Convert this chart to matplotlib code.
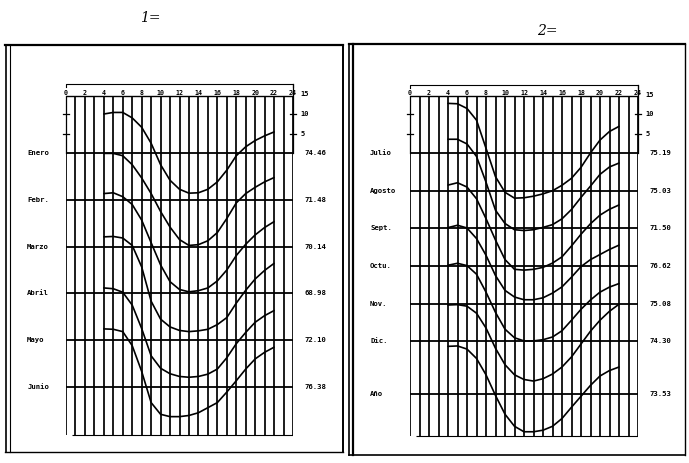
import matplotlib
matplotlib.use('Agg')
import matplotlib.pyplot as plt
from matplotlib.lines import Line2D

# ---------------- data (deviation from daily mean, hours 4..22) ----------------
hours = list(range(4, 23))

enero = [10.0, 10.4, 10.4, 9.0, 6.6, 2.5, -3.0, -7.0, -9.3, -10.3, -10.2, -9.3, -7.4, -4.4, -0.7, 1.6, 3.2, 4.4, 5.4]
febr = [11.9, 11.9, 11.3, 9.0, 5.6, 1.6, -3.0, -7.0, -10.2, -11.7, -11.5, -10.5, -8.4, -4.8, -0.8, 1.6, 3.2, 4.6, 5.7]
marzo = [13.6, 13.8, 12.8, 10.8, 6.8, 1.0, -4.7, -9.0, -11.0, -11.6, -11.3, -10.6, -8.8, -6.0, -2.3, 0.6, 3.0, 4.9, 6.4]
abril = [14.5, 14.6, 14.2, 12.3, 6.8, -2.0, -6.6, -8.6, -9.5, -9.8, -9.6, -9.2, -8.0, -6.2, -2.5, 0.8, 3.7, 5.9, 7.7]
mayo = [13.4, 13.2, 12.3, 9.0, 3.0, -4.0, -7.2, -8.6, -9.3, -9.5, -9.3, -8.7, -7.4, -4.5, -0.9, 2.0, 4.6, 6.3, 7.6]
junio = [14.9, 14.8, 14.2, 10.6, 4.0, -4.0, -7.0, -7.6, -7.6, -7.3, -6.6, -5.3, -4.0, -1.3, 1.6, 4.6, 7.2, 8.9, 10.2]

julio = [12.8, 12.7, 11.5, 8.5, 1.3, -6.0, -10.0, -11.5, -11.4, -11.0, -10.4, -9.6, -8.2, -6.4, -3.6, 0.1, 3.4, 5.6, 6.9]
agosto = [13.2, 13.2, 12.0, 8.8, 2.2, -5.0, -8.4, -10.0, -10.2, -10.0, -9.4, -8.7, -7.2, -4.8, -1.7, 1.2, 4.2, 6.1, 7.1]
sept = [11.1, 11.7, 10.6, 7.6, 2.5, -3.0, -8.0, -10.5, -10.7, -10.5, -10.0, -8.9, -7.3, -4.5, -1.5, 1.2, 3.4, 4.9, 6.0]
octu = [9.8, 10.4, 9.7, 7.0, 2.7, -2.5, -6.3, -8.0, -8.7, -8.7, -8.2, -7.0, -5.4, -2.9, -0.2, 1.6, 2.9, 4.2, 5.3]
nov = [9.9, 10.4, 9.8, 7.6, 3.0, -2.2, -6.5, -8.7, -9.5, -9.5, -9.2, -8.5, -6.9, -4.2, -1.4, 1.0, 3.0, 4.3, 5.2]
dic = [9.3, 9.4, 9.0, 7.2, 3.4, -1.8, -6.0, -8.6, -9.8, -10.2, -9.6, -8.4, -6.6, -4.0, -0.7, 2.6, 5.4, 7.7, 9.5]
anio = [12.1, 12.2, 11.4, 9.0, 4.8, -0.5, -5.3, -8.4, -9.8, -9.8, -9.4, -8.4, -6.4, -3.5, -0.7, 2.1, 4.5, 5.9, 6.8]

names_left = ["Enero", "Febr.", "Marzo", "Abril", "Mayo", "Junio"]
means_left = ["74.46", "71.48", "70.14", "68.98", "72.10", "76.38"]
names_right = ["Julio", "Agosto", "Sept.", "Octu.", "Nov.", "Dic.", "Año"]
means_right = ["75.19", "75.03", "71.50", "76.62", "75.08", "74.30", "73.53"]
hour_ticks = list(range(0, 25, 2))
scale_ticks = [15, 10, 5]

# ---------------- layout ----------------
W, H = 689, 463
PPU = 3.9  # pixels per unit
fig = plt.figure(figsize=(W / 100, H / 100), dpi=100)
fig.patch.set_facecolor('white')

MONO = dict(family='DejaVu Sans Mono', fontweight='bold', color='black')


def add_panel(x0, x1, ytop, ybot, base_px):
    ax = fig.add_axes([x0 / W, 1 - ybot / H, (x1 - x0) / W, (ybot - ytop) / H])
    ax.set_xlim(0, 24)
    ax.set_ylim(-(ybot - base_px) / PPU, (base_px - ytop) / PPU)
    ax.axis('off')
    return ax


def draw_panel(ax, series, names, means, offsets, label_x, value_x):
    top, bottom = 14.6, -72.4
    ax.vlines(range(25), bottom, top, color='black', lw=1.25)
    ax.hlines(top, 0, 24, color='black', lw=1.0)
    ax.hlines(bottom, 0.6, 24, color='black', lw=0.8)
    ax.hlines(offsets, 0, 24.2, color='black', lw=1.3)
    for vals, off in zip(series, offsets):
        ax.plot(hours, [v + off for v in vals], color='black', lw=1.2,
                solid_capstyle='round', solid_joinstyle='round')
    for n, m, off in zip(names, means, offsets):
        ax.text(label_x, off, n, ha='left', va='center', fontsize=5.2, clip_on=False, **MONO)
        ax.text(value_x, off, m, ha='left', va='center', fontsize=5.2, clip_on=False, **MONO)
    for h in hour_ticks:
        ax.text(h, top + 0.9, str(h), ha='center', va='center', fontsize=4.8,
                clip_on=False, **MONO)
    for s in scale_ticks:
        ax.text(24.75, s, str(s), ha='left', va='center', fontsize=5.0, clip_on=False, **MONO)
    # scale tick marks
    for s in [10, 5]:
        ax.plot([-0.35, 0.35], [s, s], color='black', lw=0.9, clip_on=False)
        ax.plot([23.65, 24.35], [s, s], color='black', lw=0.9, clip_on=False)
    ax.plot([0, 0], [top, 0], color='black', lw=0.9, clip_on=False)
    ax.plot([24, 24], [top + 3.0, 0], color='black', lw=0.9, clip_on=False)
    # bracket above the hour labels
    ax.plot([0, 0, 24, 24], [top + 2.2, top + 3.0, top + 3.0, top + 2.2],
            color='black', lw=0.8, clip_on=False)


axL = add_panel(66, 293, 93, 437, 153)
draw_panel(axL, [enero, febr, marzo, abril, mayo, junio], names_left, means_left,
           [0, -12, -24, -36, -48, -60], -4.1, 25.2)

axR = add_panel(410, 638, 93, 438, 153.3)
draw_panel(axR, [julio, agosto, sept, octu, nov, dic, anio], names_right, means_right,
           [0, -9.6, -19.25, -28.85, -38.6, -48.2, -61.6], -4.2, 25.2)


# ---------------- frames ----------------
def fline(x0, y0, x1, y1, lw=1.2):
    fig.add_artist(Line2D([x0 / W, x1 / W], [1 - y0 / H, 1 - y1 / H],
                          transform=fig.transFigure, color='black', lw=lw))


# left frame
fline(5, 45, 343, 45, 1.6)
fline(5, 452, 343, 452, 1.0)
fline(6, 45, 6, 452, 1.2)
fline(10, 45, 10, 452, 0.8)
fline(343, 45, 343, 452, 1.4)
# right frame
fline(349, 44, 685, 44, 1.6)
fline(349, 455, 685, 455, 1.2)
fline(349, 44, 349, 455, 1.2)
fline(353, 44, 353, 455, 1.6)
fline(685, 44, 685, 455, 1.0)

fig.text(150 / W, 1 - 18 / H, "1=", ha='center', va='center', fontsize=10,
         family='DejaVu Serif', style='italic')
fig.text(547 / W, 1 - 31 / H, "2=", ha='center', va='center', fontsize=10,
         family='DejaVu Serif', style='italic')

fig.savefig('out.png', dpi=100, facecolor='white')
